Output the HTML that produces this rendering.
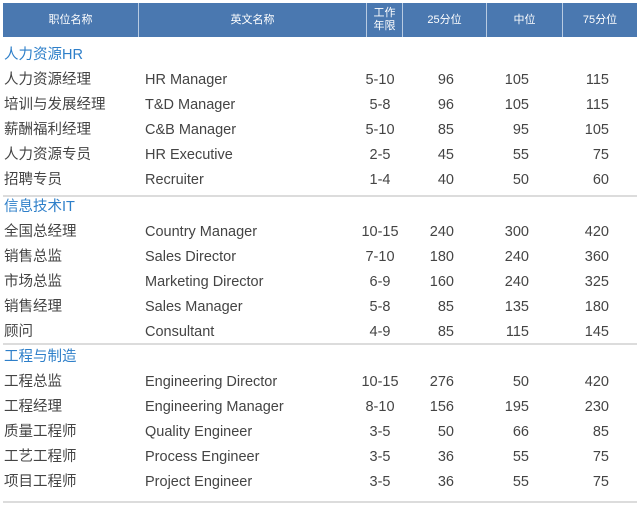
<!DOCTYPE html>
<html><head><meta charset="utf-8"><style>
body{margin:0;width:640px;height:510px;background:#fff;position:relative;overflow:hidden;font-family:"Liberation Sans","Noto Sans CJK SC",sans-serif;}
.h{position:absolute;left:3px;top:3px;width:634px;height:34px;background:#4a78b0;}
.hc{position:absolute;top:3px;height:34px;color:#fff;font-size:11px;display:flex;align-items:center;justify-content:center;text-align:center;line-height:13px;}
.vd{position:absolute;top:3px;width:1px;height:34px;background:#b8cbe2;}
.t{position:absolute;height:20px;line-height:20px;font-size:14.5px;color:#444;white-space:nowrap;}
.g{color:#2e7fc9;}
.ln{position:absolute;left:3px;width:634px;height:2px;background:#dcdcdc;}
.c{text-align:center;width:60px;}
.r{text-align:right;width:60px;}
</style></head><body>
<div class="h"></div>
<div class="hc" style="left:3px;width:135px">职位名称</div>
<div class="hc" style="left:139px;width:227px">英文名称</div>
<div class="hc" style="left:367px;width:35px">工作<br>年限</div>
<div class="hc" style="left:403px;width:83px">25分位</div>
<div class="hc" style="left:487px;width:75px">中位</div>
<div class="hc" style="left:563px;width:74px">75分位</div>
<div class="vd" style="left:138px"></div><div class="vd" style="left:366px"></div><div class="vd" style="left:402px"></div><div class="vd" style="left:486px"></div><div class="vd" style="left:562px"></div>
<div id="rows"></div>
<script>
var data=[[55,"人力资源HR",[["人力资源经理","HR Manager","5-10","96","105","115"],["培训与发展经理","T&D Manager","5-8","96","105","115"],["薪酬福利经理","C&B Manager","5-10","85","95","105"],["人力资源专员","HR Executive","2-5","45","55","75"],["招聘专员","Recruiter","1-4","40","50","60"]],195],
[207,"信息技术IT",[["全国总经理","Country Manager","10-15","240","300","420"],["销售总监","Sales Director","7-10","180","240","360"],["市场总监","Marketing Director","6-9","160","240","325"],["销售经理","Sales Manager","5-8","85","135","180"],["顾问","Consultant","4-9","85","115","145"]],343],
[357,"工程与制造",[["工程总监","Engineering Director","10-15","276","50","420"],["工程经理","Engineering Manager","8-10","156","195","230"],["质量工程师","Quality Engineer","3-5","50","66","85"],["工艺工程师","Process Engineer","3-5","36","55","75"],["项目工程师","Project Engineer","3-5","36","55","75"]],501]];
var h="";
data.forEach(function(s){
 h+='<div class="t g" style="left:4px;top:'+(s[0]-10)+'px">'+s[1]+'</div>';
 s[2].forEach(function(r,i){var y=s[0]+25+25*i-10;
  h+='<div class="t" style="left:4px;top:'+y+'px">'+r[0]+'</div>';
  h+='<div class="t" style="left:145px;top:'+y+'px">'+r[1].replace("&","&amp;")+'</div>';
  h+='<div class="t c" style="left:350px;top:'+y+'px">'+r[2]+'</div>';
  h+='<div class="t r" style="left:394px;top:'+y+'px">'+r[3]+'</div>';
  h+='<div class="t r" style="left:469px;top:'+y+'px">'+r[4]+'</div>';
  h+='<div class="t r" style="left:549px;top:'+y+'px">'+r[5]+'</div>';
 });
 h+='<div class="ln" style="top:'+s[3]+'px"></div>';
});
document.getElementById("rows").innerHTML=h;
</script>
</body></html>
